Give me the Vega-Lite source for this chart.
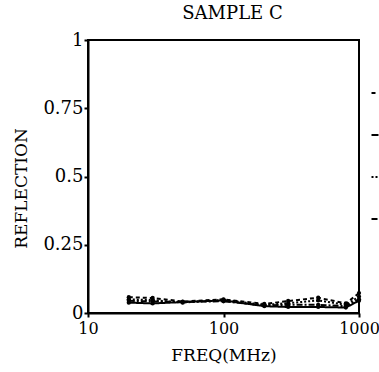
{
  "$schema": "https://vega.github.io/schema/vega-lite/v6.json",
  "width": 271,
  "height": 273,
  "autosize": "none",
  "padding": {"left": 88, "top": 40, "right": 20, "bottom": 59},
  "background": "white",
  "config": {
    "font": "DejaVu Serif",
    "view": {"stroke": "black", "strokeWidth": 2},
    "axis": {"grid": false, "domainColor": "black", "domainWidth": 2, "tickColor": "black", "tickWidth": 2, "labelColor": "black", "titleColor": "black", "labelFont": "DejaVu Serif", "titleFont": "DejaVu Serif", "labelFontSize": 17, "titleFontSize": 17, "titleFontWeight": "normal"}
  },
  "title": {"text": "SAMPLE C", "font": "DejaVu Serif", "fontSize": 18, "fontWeight": "normal", "color": "black", "offset": 8, "dx": 9},
  "data": {"values": [
    {"s": "A", "f": 20, "r": 0.058}, {"s": "A", "f": 30, "r": 0.055}, {"s": "A", "f": 50, "r": 0.042}, {"s": "A", "f": 100, "r": 0.05}, {"s": "A", "f": 200, "r": 0.033}, {"s": "A", "f": 300, "r": 0.044}, {"s": "A", "f": 500, "r": 0.056}, {"s": "A", "f": 800, "r": 0.035}, {"s": "A", "f": 1000, "r": 0.073},
    {"s": "B", "f": 20, "r": 0.038}, {"s": "B", "f": 30, "r": 0.035}, {"s": "B", "f": 50, "r": 0.04}, {"s": "B", "f": 100, "r": 0.046}, {"s": "B", "f": 200, "r": 0.025}, {"s": "B", "f": 300, "r": 0.022}, {"s": "B", "f": 500, "r": 0.022}, {"s": "B", "f": 800, "r": 0.02}, {"s": "B", "f": 1000, "r": 0.045},
    {"s": "C", "f": 20, "r": 0.05}, {"s": "C", "f": 30, "r": 0.047}, {"s": "C", "f": 50, "r": 0.038}, {"s": "C", "f": 100, "r": 0.048}, {"s": "C", "f": 200, "r": 0.03}, {"s": "C", "f": 300, "r": 0.036}, {"s": "C", "f": 500, "r": 0.046}, {"s": "C", "f": 800, "r": 0.03}, {"s": "C", "f": 1000, "r": 0.06},
    {"s": "D", "f": 20, "r": 0.045}, {"s": "D", "f": 30, "r": 0.042}, {"s": "D", "f": 50, "r": 0.041}, {"s": "D", "f": 100, "r": 0.043}, {"s": "D", "f": 200, "r": 0.028}, {"s": "D", "f": 300, "r": 0.03}, {"s": "D", "f": 500, "r": 0.03}, {"s": "D", "f": 800, "r": 0.025}, {"s": "D", "f": 1000, "r": 0.05}
  ]},
  "encoding": {
    "x": {"field": "f", "type": "quantitative", "scale": {"type": "log", "domain": [10, 1000]}, "axis": {"title": "FREQ(MHz)", "values": [10, 100, 1000], "format": "d", "labelFontSize": 16, "tickSize": 4, "labelPadding": 3, "titlePadding": 11, "labelFlush": false}},
    "y": {"field": "r", "type": "quantitative", "scale": {"domain": [0, 1]}, "axis": {"title": "REFLECTION", "values": [0, 0.25, 0.5, 0.75, 1], "labelExpr": "'' + datum.value", "labelFontSize": 18, "tickSize": 4, "labelPadding": 1, "titlePadding": 12, "titleY": 148, "labelFlush": false}}
  },
  "layer": [
    {
      "mark": {"type": "line", "color": "black", "strokeWidth": 2},
      "encoding": {
        "strokeDash": {"field": "s", "type": "nominal", "scale": {"domain": ["A", "B", "C", "D"], "range": [[4, 3], [1, 0], [2, 2], [6, 2, 2, 2]]},
          "legend": {"orient": "none", "legendX": 282, "legendY": 48, "title": null, "symbolType": "stroke", "symbolSize": 49, "symbolStrokeWidth": 2, "symbolStrokeColor": "black", "labelExpr": "' '", "labelFontSize": 10, "rowPadding": 32}}
      }
    },
    {
      "mark": {"type": "point", "filled": true, "color": "black", "size": 18, "opacity": 1},
      "encoding": {"detail": {"field": "s", "type": "nominal"}}
    }
  ]
}
